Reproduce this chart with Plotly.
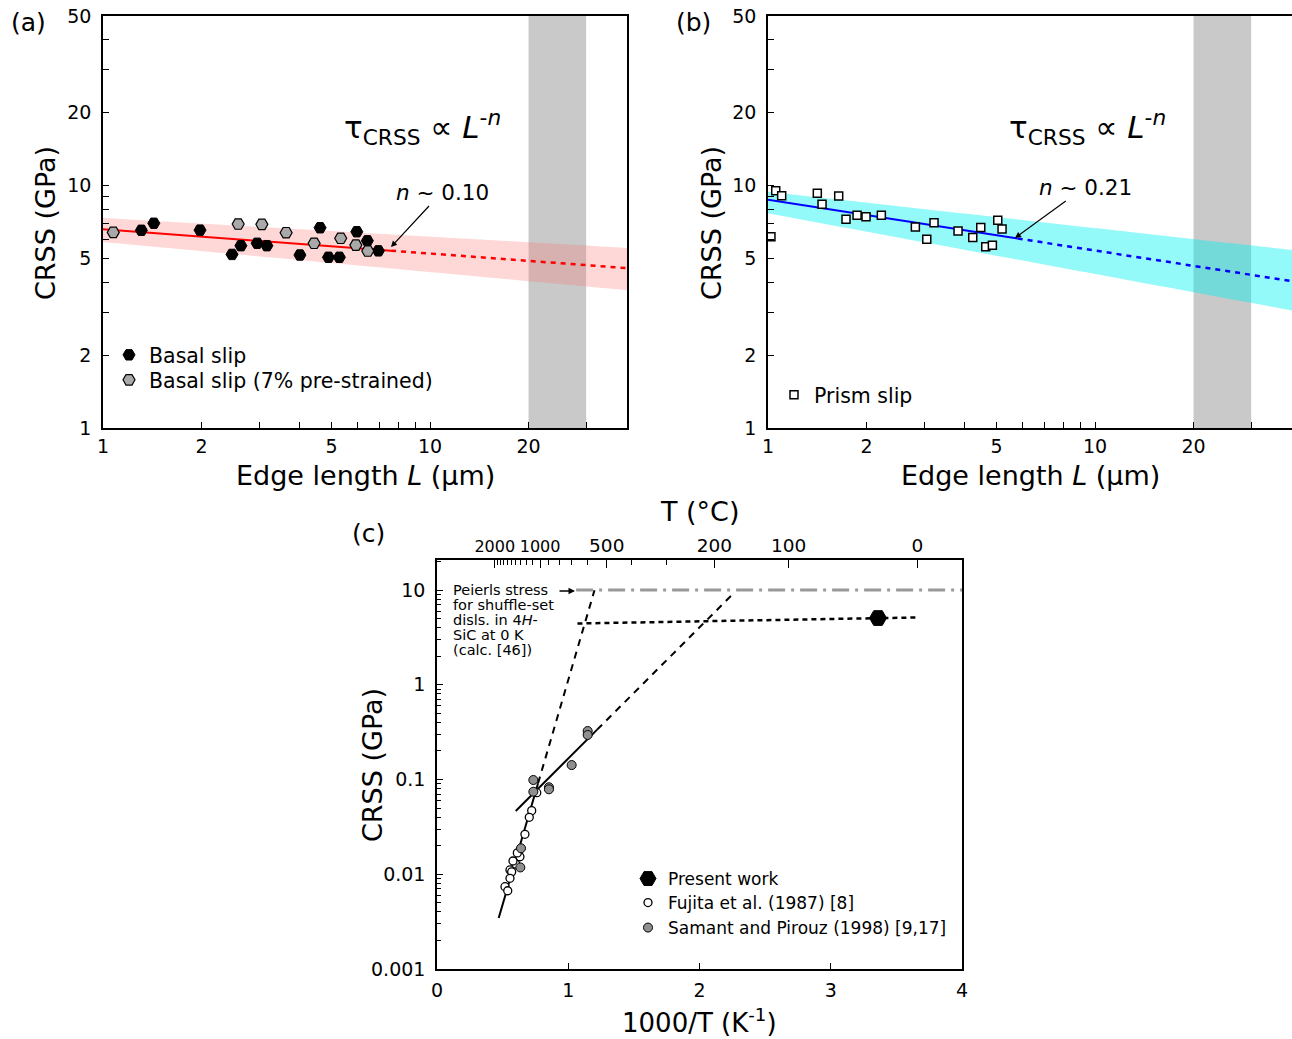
import numpy as np
import plotly.graph_objects as go

W, H = 1292, 1039
FONT = "DejaVu Sans, Arial, sans-serif"

# ---------------- data: panel (a) basal slip ----------------
basal_L = [1.31, 1.43, 1.98, 2.48, 2.64, 2.96, 3.17, 4.00, 4.61, 4.89, 5.28, 5.97, 6.43, 6.95]
basal_crss = [6.54, 6.99, 6.55, 5.20, 5.65, 5.78, 5.65, 5.17, 6.70, 5.06, 5.06, 6.45, 5.92, 5.38]
prestrain_L = [1.075, 2.59, 3.06, 3.63, 4.42, 5.33, 5.93, 6.45]
prestrain_crss = [6.41, 6.94, 6.92, 6.39, 5.78, 6.06, 5.68, 5.37]

# ---------------- data: panel (b) prism slip ----------------
prism_L = [1.021, 1.056, 1.101, 1.415, 1.463, 1.645, 1.732, 1.872, 1.994, 2.221,
           2.822, 3.058, 3.218, 3.811, 4.227, 4.472, 4.632, 4.853, 5.04, 5.195]
prism_crss = [6.15, 9.52, 9.08, 9.29, 8.37, 9.05, 7.27, 7.54, 7.44, 7.54,
              6.74, 6.00, 7.03, 6.49, 6.11, 6.72, 5.59, 5.67, 7.19, 6.62]

# power-law fits  tau = A * L^-n  and band limits
fit_a = dict(A=6.6, n=0.10, L_end=7.6)
band_a = dict(Au=7.35, nu=0.077, Al=5.85, nl=0.124)
fit_b = dict(A=8.75, n=0.21, L_end=5.8)
band_b = dict(Au=9.43, nu=0.15, Al=7.68, nl=0.25)
L_MIN, L_MAX = 1.0, 40.0
GRAY_BAND = (20, 30)

# ---------------- data: panel (c) ----------------
fujita_x = [0.760, 0.7215, 0.703, 0.670, 0.632, 0.612, 0.600, 0.579, 0.556, 0.569, 0.556, 0.518, 0.539]
fujita_y = [0.0726, 0.0469, 0.0399, 0.0264, 0.0153, 0.0168, 0.0128, 0.0138, 0.0111, 0.0106, 0.00906, 0.00739, 0.0067]
samant_x = [1.148, 1.148, 1.026, 0.734, 0.734, 0.853, 0.853, 0.640, 0.635]
samant_y = [0.325, 0.295, 0.142, 0.0988, 0.0743, 0.0828, 0.0788, 0.0188, 0.0118]
present_x = [3.36]
present_y = [5.06]

# fit lines: log10(CRSS) = c0 + slope*(x - x0)
fujita_fit = dict(x0=0.4724, c0=-2.451, slope=4.74, solid=(0.47, 0.77), dashed=(0.77, 1.20))
samant_fit = dict(x0=0.60, c0=-1.332, slope=1.384, solid=(0.60, 1.22), dashed=(1.22, 2.27))
present_ext_x = [1.07, 3.66]
present_ext_y = [4.43, 5.13]
peierls_x = [1.06, 4.0]
peierls_y = [10, 10]

top_T_major = [2000, 1000, 500, 200, 100, 0]
top_T_minor = [1900, 1800, 1700, 1600, 1500, 1400, 1300, 1200, 1100, 900, 800, 700, 600, 400, 300]


def px(x):
    return x / W


def py(y):
    return 1 - y / H


def invT(T):
    return [1000.0 / (t + 273.15) for t in T]


fig = go.Figure()


def power_panel(xa, ya, fit, band, color, fillc):
    Lg = np.logspace(np.log10(L_MIN), np.log10(L_MAX), 80)
    fig.add_trace(go.Scatter(x=[GRAY_BAND[0], GRAY_BAND[1], GRAY_BAND[1], GRAY_BAND[0]],
                             y=[1, 1, 50, 50], fill='toself', fillcolor='#c9c9c9', mode='none',
                             xaxis=xa, yaxis=ya, showlegend=False, hoverinfo='skip'))
    up = band['Au'] * Lg ** (-band['nu'])
    lo = band['Al'] * Lg ** (-band['nl'])
    fig.add_trace(go.Scatter(x=np.concatenate([Lg, Lg[::-1]]), y=np.concatenate([up, lo[::-1]]),
                             fill='toself', fillcolor=fillc, mode='none', xaxis=xa, yaxis=ya,
                             showlegend=False, hoverinfo='skip'))
    Ls = np.logspace(0, np.log10(fit['L_end']), 20)
    Ld = np.logspace(np.log10(fit['L_end']), np.log10(L_MAX), 20)
    fig.add_trace(go.Scatter(x=Ls, y=fit['A'] * Ls ** (-fit['n']), mode='lines',
                             line=dict(color=color, width=2), xaxis=xa, yaxis=ya, showlegend=False))
    fig.add_trace(go.Scatter(x=Ld, y=fit['A'] * Ld ** (-fit['n']), mode='lines',
                             line=dict(color=color, width=2.5, dash='5px,5px'), xaxis=xa, yaxis=ya,
                             showlegend=False))


power_panel('x', 'y', fit_a, band_a, '#ff0000', 'rgba(250,110,110,0.28)')
fig.add_trace(go.Scatter(x=basal_L, y=basal_crss, mode='markers', name='Basal slip',
                         marker=dict(symbol='hexagon2', size=12, color='black', line=dict(color='black', width=1)),
                         xaxis='x', yaxis='y', legend='legend'))
fig.add_trace(go.Scatter(x=prestrain_L, y=prestrain_crss, mode='markers', name='Basal slip (7% pre-strained)',
                         marker=dict(symbol='hexagon2', size=12, color='#a9a9a9', line=dict(color='black', width=1.2)),
                         xaxis='x', yaxis='y', legend='legend4'))

power_panel('x2', 'y2', fit_b, band_b, '#0000ff', 'rgba(0,240,240,0.42)')
fig.add_trace(go.Scatter(x=prism_L, y=prism_crss, mode='markers', name='Prism slip',
                         marker=dict(symbol='square', size=8, color='white', line=dict(color='black', width=1.5)),
                         xaxis='x2', yaxis='y2', legend='legend2'))

# panel c lines
for f in (fujita_fit, samant_fit):
    xs = np.linspace(*f['solid'], 10)
    fig.add_trace(go.Scatter(x=xs, y=10 ** (f['c0'] + f['slope'] * (xs - f['x0'])), mode='lines',
                             line=dict(color='black', width=2), xaxis='x3', yaxis='y3', showlegend=False))
    xd = np.linspace(*f['dashed'], 10)
    fig.add_trace(go.Scatter(x=xd, y=10 ** (f['c0'] + f['slope'] * (xd - f['x0'])), mode='lines',
                             line=dict(color='black', width=2, dash='7px,6px'), xaxis='x3', yaxis='y3',
                             showlegend=False))
fig.add_trace(go.Scatter(x=peierls_x, y=peierls_y, mode='lines',
                         line=dict(color='#999999', width=3, dash='17px,6px,3px,6px'),
                         xaxis='x3', yaxis='y3', showlegend=False))
fig.add_trace(go.Scatter(x=present_ext_x, y=present_ext_y, mode='lines',
                         line=dict(color='black', width=2.5, dash='5px,4px'),
                         xaxis='x3', yaxis='y3', showlegend=False))
fig.add_trace(go.Scatter(x=present_x, y=present_y, mode='markers', name='Present work',
                         marker=dict(symbol='hexagon2', size=17, color='black', line=dict(color='black', width=1)),
                         xaxis='x3', yaxis='y3', legend='legend3'))
fig.add_trace(go.Scatter(x=fujita_x, y=fujita_y, mode='markers', name='Fujita et al. (1987) [8]',
                         marker=dict(symbol='circle', size=8, color='white', line=dict(color='black', width=1.3)),
                         xaxis='x3', yaxis='y3', legend='legend5'))
fig.add_trace(go.Scatter(x=samant_x, y=samant_y, mode='markers', name='Samant and Pirouz (1998) [9,17]',
                         marker=dict(symbol='circle', size=9, color='#8f8f8f', line=dict(color='black', width=1)),
                         xaxis='x3', yaxis='y3', legend='legend6'))
# invisible trace so the top temperature axis is drawn
fig.add_trace(go.Scatter(x=present_x, y=present_y, mode='markers', marker=dict(opacity=0),
                         xaxis='x4', yaxis='y3', showlegend=False, hoverinfo='skip'))

tickfont = dict(size=19, color='black', family=FONT)
base = dict(showline=True, linecolor='black', linewidth=1.5, mirror=True, ticks='inside', ticklen=6,
            tickwidth=1.2, tickcolor='black', showgrid=False, zeroline=False, tickfont=tickfont)

Lmaj = [1, 2, 5, 10, 20]
Lmin = [3, 4, 6, 7, 8, 9, 30]
Cmaj = [1, 2, 5, 10, 20, 50]
Cmin = [3, 4, 6, 7, 8, 9, 30, 40]


def logx(dom, anchor):
    return dict(base, type='log', range=[0, np.log10(L_MAX)], domain=dom, anchor=anchor,
                tickmode='array', tickvals=Lmaj, ticktext=[str(v) for v in Lmaj],
                minor=dict(tickmode='array', tickvals=Lmin, ticks='inside', ticklen=6, tickwidth=1.2,
                           tickcolor='black'))


def logy(dom, anchor):
    return dict(base, type='log', range=[0, np.log10(50) + 0.0005], domain=dom, anchor=anchor,
                tickmode='array', tickvals=Cmaj, ticktext=[str(v) for v in Cmaj], ticklabelstandoff=6,
                minor=dict(tickmode='array', tickvals=Cmin, ticks='inside', ticklen=6, tickwidth=1.2,
                           tickcolor='black'))


ydom_ab = [py(428), py(16)]
c_ymin = [k * 10.0 ** e for e in range(-3, 2) for k in range(2, 10) if k * 10.0 ** e < 20.7]


def small(s):
    return '<span style="font-size:16px">%s</span>' % s


top_text = [small(str(t)) if t >= 1000 else str(t) for t in top_T_major]


def leg(x, y, size):
    return dict(x=px(x), y=py(y), xanchor='left', yanchor='middle', bgcolor='rgba(0,0,0,0)',
                font=dict(size=size, family=FONT, color='black'))


fig.update_layout(
    width=W, height=H, margin=dict(l=0, r=0, t=0, b=0, autoexpand=False),
    paper_bgcolor='white', plot_bgcolor='white',
    font=dict(family=FONT, color='black'),
    xaxis=logx([px(103), px(627)], 'y'),
    yaxis=logy(ydom_ab, 'x'),
    xaxis2=logx([px(768), px(1292)], 'y2'),
    yaxis2=logy(ydom_ab, 'x2'),
    xaxis3=dict(base, range=[0, 4], domain=[px(437), px(962)], anchor='y3', dtick=1,
                tickfont=dict(tickfont, size=19), ticklabelstandoff=3),
    yaxis3=dict(base, type='log', range=[-3, 1.3166], domain=[py(969), py(560)], anchor='x3',
                tickmode='array', tickvals=[0.001, 0.01, 0.1, 1, 10],
                ticktext=['0.001', '0.01', '0.1', '1', '10'], tickfont=dict(tickfont, size=19),
                ticklabelstandoff=6,
                minor=dict(tickmode='array', tickvals=c_ymin, ticks='inside', ticklen=4, tickwidth=1,
                           tickcolor='black')),
    xaxis4=dict(overlaying='x3', side='top', anchor='y3', range=[0, 4], showline=False, showgrid=False,
                zeroline=False, ticks='inside', ticklen=8, tickwidth=1.2, tickcolor='black',
                tickmode='array', tickvals=invT(top_T_major), ticktext=top_text, ticklabelstandoff=3,
                tickfont=dict(size=18.5, color='black', family=FONT),
                minor=dict(tickmode='array', tickvals=invT(top_T_minor), ticks='inside', ticklen=5,
                           tickwidth=1, tickcolor='black')),
    legend=leg(109, 355, 20.5),
    legend4=leg(109, 380, 20.5),
    legend2=leg(774, 395, 20.5),
    legend3=leg(628, 879, 17),
    legend5=leg(628, 903, 17),
    legend6=leg(628, 928, 17),
)

ann = []


def text(x, y, s, size, **kw):
    d = dict(x=px(x), y=py(y), xref='paper', yref='paper', text=s, showarrow=False,
             xanchor='center', yanchor='middle',
             font=dict(size=size, family=FONT, color='black'))
    d.update(kw)
    ann.append(d)


text(28, 22, '(a)', 25)
text(693, 22, '(b)', 25)
text(368, 533, '(c)', 25)
text(45, 223, 'CRSS (GPa)', 27, textangle=-90)
text(711, 223, 'CRSS (GPa)', 27, textangle=-90)
text(372, 765, 'CRSS (GPa)', 27, textangle=-90)
text(365, 475, 'Edge length <i>L</i> (μm)', 27)
text(1030, 475, 'Edge length <i>L</i> (μm)', 27)
text(700, 512, 'T (°C)', 27)
text(699, 1021, '1000/T (K<sup>-1</sup>)', 26)
for cx in (422, 1087):
    text(cx, 127, 'τ<sub>CRSS</sub> ∝ <i>L</i><sup>-<i>n</i></sup>', 31)

# n labels with arrows
ann.append(dict(x=px(391), y=py(247), xref='paper', yref='paper', text='<i>n</i> ~ 0.10',
                showarrow=True, ax=51, ay=-55, arrowhead=2, arrowsize=1, arrowwidth=1.2, arrowcolor='black',
                font=dict(size=21.5, family=FONT, color='black')))
ann.append(dict(x=px(1015), y=py(238), xref='paper', yref='paper', text='<i>n</i> ~ 0.21',
                showarrow=True, ax=70, ay=-51, arrowhead=2, arrowsize=1, arrowwidth=1.2, arrowcolor='black',
                font=dict(size=21.5, family=FONT, color='black')))

pl = ['Peierls stress', 'for shuffle-set', 'disls. in 4<i>H</i>-', 'SiC at 0 K', '(calc. [46])']
for i, s in enumerate(pl):
    text(451, 590 + 15 * i, s, 14.5, xanchor='left')
ann.append(dict(x=px(575), y=py(591), xref='paper', yref='paper', text='', showarrow=True,
                ax=-17, ay=0, arrowhead=2, arrowsize=1, arrowwidth=1.3, arrowcolor='black'))

fig.update_layout(annotations=ann)
fig.write_html('out.html')
